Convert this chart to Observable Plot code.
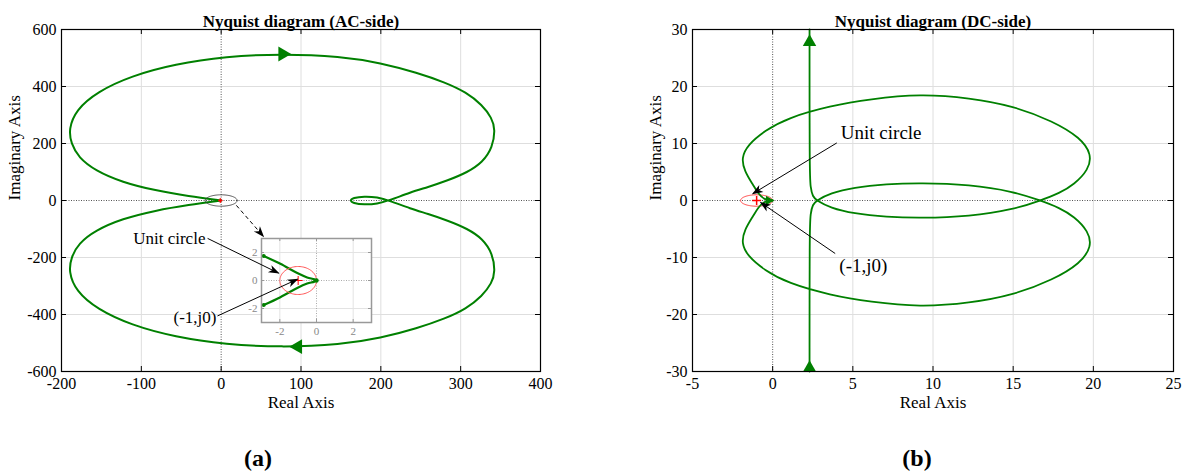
<!DOCTYPE html>
<html>
<head>
<meta charset="utf-8">
<script src="https://cdn.jsdelivr.net/npm/d3@7"></script>
<script src="https://cdn.jsdelivr.net/npm/@observablehq/plot@0.6"></script>
<style>
  html, body { margin: 0; background: #fff; }
  #figure { position: relative; width: 1184px; height: 475px; overflow: hidden;
    font-family: "Liberation Serif", "Times New Roman", serif; }
  #figure > svg { position: absolute; margin: 0; }
  .tag { position: absolute; top: 443px; width: 60px; margin-left: -30px; text-align: center;
    font-weight: bold; font-size: 24px; line-height: 30px; }
</style>
</head>
<body>
<div id="figure"></div>
<script>
// Tick values
const acTicksX = [-200, -100, 0, 100, 200, 300, 400];
const acTicksY = [-600, -400, -200, 0, 200, 400, 600];
const dcTicksX = [-5, 0, 5, 10, 15, 20, 25];
const dcTicksY = [-30, -20, -10, 0, 10, 20, 30];
const zoomTicks = [-2, 0, 2];

// AC-side locus, positive frequencies: from the origin round the large loop,
// ending on the small loop where it meets the real axis
const acRe = [0, -40.6, -82.4, -124, -157.7, -178.7, -188, -191, -182, -155, -113, -58, 6, 75, 149.7, 200, 246, 280, 307, 327, 339, 343.3, 340, 327.5, 308.6, 283.6, 258.5, 237.5, 210.3, 195.7, 179, 165, 161.4];
const acIm = [0, 15, 35, 64, 105, 151, 200, 250, 318, 382, 437, 479, 505, 515, 506, 483, 448, 415, 380, 335, 290, 250, 186, 134, 99, 70, 46.5, 29, 0, -11.6, -15, -9, 0];
// direction arrows on the AC locus
const acArrowRe = [77, 96];
const acArrowIm = [514, -513];
const acArrowAngle = [90, -90];

// AC locus close to the origin (inset)
const zoomRe = [0, -0.12, -0.51, -1.05, -1.97, -2.88];
const zoomIm = [0, 0.08, 0.22, 0.53, 1.19, 1.75];

// DC-side locus, positive frequencies: from the origin round the loop, then up the asymptote
const dcRe = [0, -0.52, -0.93, -1.23, -1.75, -1.96, -1.54, -0.52, 0.93, 3.6, 6.07, 9.2, 12.3, 15.0, 17.5, 19.2, 19.9, 19.7, 18.8, 17.9, 16.7, 15.0, 12.3, 9.2, 7.1, 5.04, 3.6, 2.73, 2.5, 2.36, 2.3, 2.3];
const dcIm = [0, 0.1, 1.3, 2.8, 5.1, 7.5, 9.8, 12.2, 14.5, 16.6, 17.8, 18.7, 18.0, 16.6, 13.9, 11.0, 8.1, 5.4, 2.8, 1.3, 0, -1.6, -2.8, -3.1, -2.9, -2.3, -1.3, 0, 0.7, 2.2, 5, 30];
const dcArrowRe = [2.3, 2.3];
const dcArrowIm = [27.8, -29.4];

// critical point (-1, j0) with the unit circle drawn around it
const critical = {re: -1, im: 0, r: 1};
// ring marking the region around the origin that the inset enlarges
const acRing = {re: 0, im: 0, r: 20};

// annotations: label anchor, arrow start and arrow tip
const acNotes = [
  {text: "Unit circle", re: -19.7, im: -133, x1: -17, y1: -133, x2: 72, y2: -255},
  {text: "(-1,j0)", re: -5.9, im: -412, x1: -4.6, y1: -405, x2: 95.7, y2: -276}
];
const acInsetPointer = [{x1: 19, y1: -17, x2: 53, y2: -126}];
const dcNotes = [
  {text: "Unit circle", re: 4.25, im: 11.8, x1: 4.0, y1: 10.1, x2: -1.24, y2: 1.2},
  {text: "(-1,j0)", re: 4.16, im: -11.5, x1: 3.9, y1: -9.3, x2: -0.75, y2: -0.35}
];

const green = "#008000";
const serif = "'Liberation Serif', 'Times New Roman', serif";
const fmt = d => String(d);

const zip = (re, im) => re.map((r, i) => ({re: r, im: im[i]}));
const conj = d => ({re: d.re, im: -d.im});
const ring = ({re, im, r}) => d3.range(0, 361, 4).map(a => ({re: re + r * Math.cos(a * Math.PI / 180), im: im + r * Math.sin(a * Math.PI / 180)}));

const acHalf = zip(acRe, acIm);
const acLocus = [...acHalf, ...acHalf.slice(0, -1).reverse().map(conj)];
const acArrows = acArrowRe.map((re, i) => ({re, im: acArrowIm[i], angle: acArrowAngle[i]}));
const zoomHalf = zip(zoomRe, zoomIm);
const zoomLocus = [...zoomHalf.slice().reverse(), ...zoomHalf.slice(1).map(conj)];
const zoomEnds = [zoomHalf[zoomHalf.length - 1], conj(zoomHalf[zoomHalf.length - 1])];
const dcUpper = zip(dcRe, dcIm);
const dcLower = dcUpper.map(conj);
const dcArrows = dcArrowRe.map((re, i) => ({re, im: dcArrowIm[i]}));

// filled arrow head for the annotation pointers
function head(color) {
  const m = d3.create("svg:marker")
    .attr("viewBox", "-11 -5 12 10")
    .attr("markerUnits", "userSpaceOnUse")
    .attr("markerWidth", 12).attr("markerHeight", 10)
    .attr("orient", "auto")
    .attr("fill", color).attr("stroke", "none");
  m.append("path").attr("d", "M1,0L-10,-4L-7,0L-10,4Z");
  return m.node();
}

// grid, dotted zero lines, boxed frame with inward ticks, and tick labels
function axesMarks(xt, yt, fw, fh, o = {}) {
  const gridColor = o.grid || "#dedede";
  const ink = o.ink || "black";
  const zero = o.zero || "#555";
  const tick = o.tick || 5;
  return {
    under: [
      Plot.ruleX(xt.filter(v => v !== 0), {x: d => d, stroke: gridColor, strokeWidth: 1}),
      Plot.ruleY(yt.filter(v => v !== 0), {y: d => d, stroke: gridColor, strokeWidth: 1}),
      Plot.ruleX([0], {x: d => d, stroke: zero, strokeDasharray: "1,1.5", strokeWidth: 1}),
      Plot.ruleY([0], {y: d => d, stroke: zero, strokeDasharray: "1,1.5", strokeWidth: 1})
    ],
    over: [
      Plot.ruleX(xt, {x: d => d, stroke: ink, insetTop: fh - tick}),
      Plot.ruleX(xt, {x: d => d, stroke: ink, insetBottom: fh - tick}),
      Plot.ruleY(yt, {y: d => d, stroke: ink, insetRight: fw - tick}),
      Plot.ruleY(yt, {y: d => d, stroke: ink, insetLeft: fw - tick}),
      Plot.frame({stroke: ink, strokeWidth: o.frameWidth || 1.2}),
      Plot.axisX({ticks: xt, tickFormat: fmt, tickSize: 0, tickPadding: o.padX ?? 6, label: null, fill: o.labelColor || "black", fontSize: o.fontSize || 16}),
      Plot.axisY({ticks: yt, tickFormat: fmt, tickSize: 0, tickPadding: o.padY ?? 5, label: null, fill: o.labelColor || "black", fontSize: o.fontSize || 16})
    ]
  };
}

const style = {fontFamily: serif, fontSize: "16px", background: "transparent", color: "black", overflow: "visible"};

// ---- (a) AC side ----
const acBox = {width: 592, height: 420, marginLeft: 61, marginRight: 52, marginTop: 29, marginBottom: 49};
const acAx = axesMarks(acTicksX, acTicksY, 479, 342);
const acPlot = Plot.plot({
  ...acBox, style,
  x: {domain: [-200, 400]}, y: {domain: [-600, 600]},
  marks: [
    ...acAx.under,
    Plot.line(acLocus, {x: "re", y: "im", stroke: green, strokeWidth: 2, curve: "basis", strokeLinejoin: "round"}),
    Plot.line(ring(acRing), {x: "re", y: "im", stroke: "#333", strokeWidth: 0.8}),
    Plot.dot([critical], {x: "re", y: "im", symbol: "plus", stroke: "red", r: 1.5}),
    Plot.dot(acArrows, {x: "re", y: "im", rotate: "angle", symbol: "triangle", r: 5.5, fill: green, stroke: null}),
    ...acAx.over,
    Plot.text(["Nyquist diagram (AC-side)"], {text: d => d, frameAnchor: "top", dy: -15, fontWeight: "bold", fontSize: 17}),
    Plot.text(["Real Axis"], {text: d => d, frameAnchor: "bottom", dy: 36, fontSize: 17}),
    Plot.text(["Imaginary Axis"], {text: d => d, frameAnchor: "left", dx: -47, rotate: -90, fontSize: 17})
  ]
});

// inset: the locus close to the origin with the unit circle around (-1, j0)
const zAx = axesMarks(zoomTicks, zoomTicks, 110, 84, {grid: "#e3e3e3", ink: "#999", zero: "#aaa", tick: 3, labelColor: "#888", fontSize: 11, padX: 5, padY: 4, frameWidth: 1.5});
const insetPlot = Plot.plot({
  width: 134, height: 106, marginLeft: 20, marginRight: 4, marginTop: 4, marginBottom: 18,
  style: {...style, fontSize: "11px"},
  x: {domain: [-3, 3]}, y: {domain: [-3, 3]},
  marks: [
    Plot.frame({fill: "white", stroke: null}),
    ...zAx.under,
    Plot.line(zoomLocus, {x: "re", y: "im", stroke: green, strokeWidth: 2.2, curve: "catmull-rom"}),
    Plot.line(ring(critical), {x: "re", y: "im", stroke: "#ff5555", strokeWidth: 1}),
    Plot.dot([critical], {x: "re", y: "im", symbol: "plus", stroke: "red", r: 3, strokeWidth: 1}),
    Plot.dot(zoomEnds, {x: "re", y: "im", r: 2, fill: green, stroke: null}),
    Plot.dot([{re: 0, im: 0}], {x: "re", y: "im", r: 2.2, fill: green, stroke: null}),
    ...zAx.over
  ]
});

// pointers and labels on top of the inset
const acNotesPlot = Plot.plot({
  ...acBox, style,
  x: {domain: [-200, 400], axis: null}, y: {domain: [-600, 600], axis: null},
  marks: [
    Plot.link(acNotes, {x1: "x1", y1: "y1", x2: "x2", y2: "y2", stroke: "black", strokeWidth: 1, markerEnd: head}),
    Plot.link(acInsetPointer, {x1: "x1", y1: "y1", x2: "x2", y2: "y2", stroke: "black", strokeWidth: 1, strokeDasharray: "4,3", markerEnd: head}),
    Plot.text(acNotes, {x: "re", y: "im", text: "text", textAnchor: "end", fontSize: 17})
  ]
});

// ---- (b) DC side ----
const dcBox = {width: 592, height: 420, marginLeft: 100, marginRight: 11, marginTop: 29, marginBottom: 49};
const dcAx = axesMarks(dcTicksX, dcTicksY, 481, 342);
const dcPlot = Plot.plot({
  ...dcBox, style,
  x: {domain: [-5, 25]}, y: {domain: [-30, 30]},
  marks: [
    ...dcAx.under,
    Plot.line(ring(critical), {x: "re", y: "im", stroke: "#ff4444", strokeWidth: 1}),
    Plot.dot([critical], {x: "re", y: "im", symbol: "plus", stroke: "red", r: 3}),
    Plot.line(dcUpper, {x: "re", y: "im", stroke: green, strokeWidth: 1.8, curve: "basis"}),
    Plot.line(dcLower, {x: "re", y: "im", stroke: green, strokeWidth: 1.8, curve: "basis"}),
    Plot.dot([{re: -0.25, im: 0}], {x: "re", y: "im", symbol: "triangle", rotate: 90, r: 3.5, fill: green, stroke: null}),
    Plot.dot(dcArrows, {x: "re", y: "im", symbol: "triangle", r: 5, fill: green, stroke: null}),
    Plot.link(dcNotes, {x1: "x1", y1: "y1", x2: "x2", y2: "y2", stroke: "black", strokeWidth: 1, markerEnd: head}),
    Plot.text(dcNotes, {x: "re", y: "im", text: "text", textAnchor: "start", fontSize: 19}),
    ...dcAx.over,
    Plot.text(["Nyquist diagram (DC-side)"], {text: d => d, frameAnchor: "top", dy: -15, fontWeight: "bold", fontSize: 17}),
    Plot.text(["Real Axis"], {text: d => d, frameAnchor: "bottom", dy: 36, fontSize: 17}),
    Plot.text(["Imaginary Axis"], {text: d => d, frameAnchor: "left", dx: -37, rotate: -90, fontSize: 17})
  ]
});

const fig = document.getElementById("figure");
function place(el, left, top) {
  el.style.left = left + "px";
  el.style.top = top + "px";
  fig.appendChild(el);
}
place(acPlot, 0, 0);
place(insetPlot, 241, 234);
place(acNotesPlot, 0, 0);
place(dcPlot, 592, 0);

for (const [label, cx] of [["(a)", 258], ["(b)", 917]]) {
  const t = document.createElement("div");
  t.className = "tag";
  t.style.left = cx + "px";
  t.textContent = label;
  fig.appendChild(t);
}
</script>
</body>
</html>
